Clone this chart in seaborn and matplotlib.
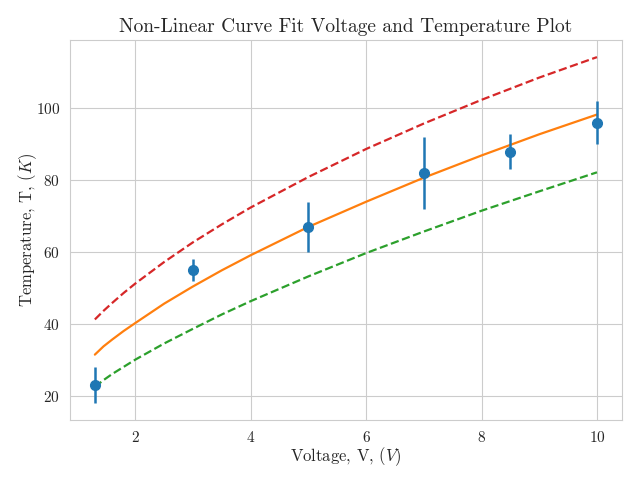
import numpy as np
import pandas as pd
import matplotlib
matplotlib.use("Agg")
import matplotlib.pyplot as plt
import seaborn as sns

# measured data
voltage = [1.3, 3.0, 5.0, 7.0, 8.5, 10.0]
temperature = [23, 55, 67, 82, 88, 96]
temp_err = [5, 3, 7, 10, 5, 6]

# curves
curve_x = [1.3, 1.45, 1.6, 1.8, 2.0, 2.5, 3.0, 3.5, 4.0, 5.0, 6.0, 7.0, 8.0, 9.0, 10.0]
fit_y = [31.4, 33.7, 35.6, 38.0, 40.2, 45.6, 50.4, 54.9, 59.1, 67.0, 74.0, 80.7, 86.9, 92.8, 98.3]
upper_y = [41.2, 43.6, 45.8, 48.6, 51.2, 57.2, 62.7, 67.7, 72.4, 80.9, 88.7, 95.8, 102.4, 108.6, 114.3]
lower_y = [22.4, 24.3, 26.0, 28.0, 30.0, 34.5, 38.6, 42.6, 46.3, 53.2, 59.7, 65.7, 71.5, 76.9, 82.2]

title = "Non-Linear Curve Fit Voltage and Temperature Plot"
xlabel = "Voltage, V, $(V)$"
ylabel = "Temperature, T, $(K)$"

sns.set_style("whitegrid")
plt.rcParams.update({
    "font.family": "serif",
    "font.serif": ["cmr10"],
    "mathtext.fontset": "cm",
    "axes.formatter.use_mathtext": True,
    "axes.unicode_minus": False,
    "axes.edgecolor": ".8",
    "grid.color": ".8",
    "xtick.color": ".15",
    "ytick.color": ".15",
    "axes.labelcolor": ".15",
    "text.color": ".15",
})

fig, ax = plt.subplots(figsize=(6.4, 4.8), dpi=100)
fig.subplots_adjust(left=0.109, right=0.972, top=0.917, bottom=0.125)

ax.errorbar(voltage, temperature, yerr=temp_err, fmt="o", color="C0",
            markersize=7, elinewidth=1.8, capsize=0, zorder=5)

df = pd.DataFrame({"x": curve_x, "fit": fit_y, "upper": upper_y, "lower": lower_y})
sns.lineplot(data=df, x="x", y="fit", ax=ax, color="C1", linewidth=1.6)
sns.lineplot(data=df, x="x", y="upper", ax=ax, color="C3", linewidth=1.6, linestyle="--")
sns.lineplot(data=df, x="x", y="lower", ax=ax, color="C2", linewidth=1.6, linestyle="--")

ax.set_title(title, fontsize=14)
ax.set_xlabel(xlabel, fontsize=12)
ax.set_ylabel(ylabel, fontsize=12)
ax.tick_params(labelsize=11)
ax.yaxis.set_label_coords(-0.056, 0.5)
ax.xaxis.set_label_coords(0.5, -0.066)

fig.savefig("out.png", dpi=100)
